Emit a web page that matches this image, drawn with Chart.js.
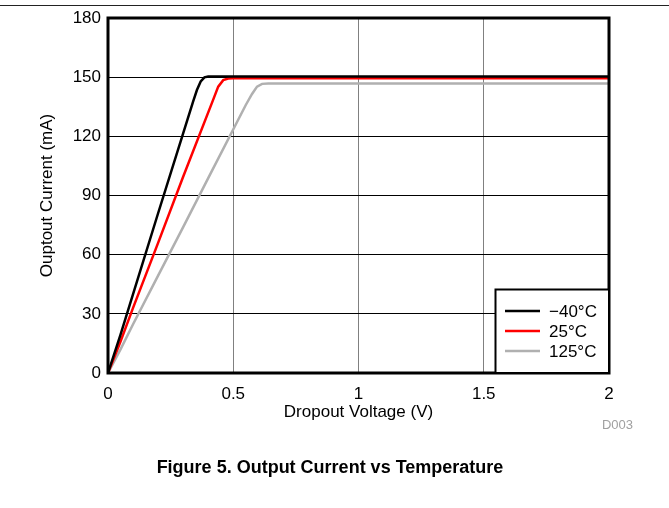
<!DOCTYPE html>
<html>
<head>
<meta charset="utf-8">
<script src="https://cdn.jsdelivr.net/npm/chart.js@4"></script>
<style>
  html, body { margin: 0; padding: 0; background: #fff; }
  #wrap { position: relative; width: 669px; height: 508px; overflow: hidden; font-family: "Liberation Sans", Arial, sans-serif; }
  #rule { position: absolute; left: 0; top: 5px; width: 669px; height: 1px; background: #222; }
  #fig { position: absolute; left: 0; width: 660px; top: 457px; text-align: center; font-weight: bold; font-size: 18px; color: #000; }
  #code { position: absolute; right: 36px; top: 417px; font-size: 13px; color: #a0a0a0; }
  canvas { position: absolute; left: 0; top: 0; }
</style>
</head>
<body>
<div id="wrap">
  <canvas id="c" width="669" height="508"></canvas>
  <div id="rule"></div>
  <div id="code">D003</div>
  <div id="fig">Figure 5. Output Current vs Temperature</div>
</div>
<script>
// Data
const seriesLabels = ['\u221240\u00B0C', '25\u00B0C', '125\u00B0C'];
const voltM40 = [0, 0.05, 0.10, 0.20, 0.30, 0.34, 0.355, 0.37, 0.385, 0.40, 2.0];
const currM40 = [0, 19.5, 40, 81, 121.5, 137.7, 143.5, 147.8, 149.9, 150.3, 150.3];
const volt25  = [0, 0.05, 0.10, 0.20, 0.30, 0.42, 0.44, 0.46, 0.48, 0.50, 2.0];
const curr25  = [0, 16, 33, 66, 99.5, 138.6, 145.2, 148.5, 149.3, 149.4, 149.4];
const volt125 = [0, 0.05, 0.10, 0.20, 0.30, 0.40, 0.55, 0.575, 0.595, 0.615, 0.64, 2.0];
const curr125 = [0, 12, 24.7, 49.4, 74, 98.8, 135.9, 141.5, 145.2, 146.6, 146.8, 146.8];
const xTicks = [0, 0.5, 1, 1.5, 2];
const yTicks = [0, 30, 60, 90, 120, 150, 180];

const FONT = '"Liberation Sans", Arial, sans-serif';
const toPts = (xs, ys) => xs.map((x, i) => ({ x: x, y: ys[i] }));
const colors = ['#000000', '#ff0000', '#b0b0b0'];

const framePlugin = {
  id: 'frame',
  afterDatasetsDraw(chart) {
    const { ctx, chartArea: a } = chart;
    ctx.save();
    // plot border
    ctx.strokeStyle = '#000';
    ctx.lineWidth = 3;
    ctx.strokeRect(a.left, a.top, a.right - a.left, a.bottom - a.top);
    // legend box
    const bx = 495.5, by = 289.5, bw = a.right - bx, bh = a.bottom - by;
    ctx.fillStyle = '#fff';
    ctx.fillRect(bx, by, bw, bh);
    ctx.lineWidth = 2;
    ctx.strokeRect(bx, by, bw, bh);
    ctx.font = '17px ' + FONT;
    ctx.textBaseline = 'middle';
    ctx.textAlign = 'left';
    chart.data.datasets.forEach((ds, i) => {
      const y = 311 + i * 20;
      ctx.strokeStyle = ds.borderColor;
      ctx.lineWidth = 2.5;
      ctx.beginPath();
      ctx.moveTo(505, y);
      ctx.lineTo(540, y);
      ctx.stroke();
      ctx.fillStyle = '#000';
      ctx.fillText(ds.label, 549, y + 1);
    });
    ctx.restore();
  }
};

new Chart(document.getElementById('c'), {
  type: 'scatter',
  data: {
    datasets: [
      { label: seriesLabels[0], data: toPts(voltM40, currM40), borderColor: colors[0] },
      { label: seriesLabels[1], data: toPts(volt25, curr25), borderColor: colors[1] },
      { label: seriesLabels[2], data: toPts(volt125, curr125), borderColor: colors[2] }
    ].map(d => Object.assign(d, { showLine: true, pointRadius: 0, borderWidth: 2.5, tension: 0, fill: false }))
  },
  options: {
    responsive: false,
    animation: false,
    devicePixelRatio: 1,
    layout: { padding: { left: 37, top: 18, right: 60, bottom: 85 } },
    plugins: { legend: { display: false }, tooltip: { enabled: false } },
    scales: {
      x: {
        type: 'linear', min: 0, max: 2,
        afterBuildTicks: s => { s.ticks = xTicks.map(v => ({ value: v })); },
        afterFit: s => { s.height = 50; },
        grid: { color: '#808080', lineWidth: 1, drawTicks: false },
        border: { display: false },
        ticks: { padding: 11, color: '#000', font: { family: FONT, size: 17 }, maxRotation: 0,
                 callback: v => String(v) },
        title: { display: true, text: 'Dropout Voltage (V)', color: '#000', padding: 0, font: { family: FONT, size: 17 } }
      },
      y: {
        type: 'linear', min: 0, max: 180,
        afterBuildTicks: s => { s.ticks = yTicks.map(v => ({ value: v })); },
        afterFit: s => { s.width = 71; },
        grid: { color: '#000', lineWidth: 1, drawTicks: false },
        border: { display: false },
        ticks: { padding: 7, color: '#000', font: { family: FONT, size: 17 } },
        title: { display: true, text: 'Ouptout Current (mA)', color: '#000', padding: 0, font: { family: FONT, size: 17 } }
      }
    }
  },
  plugins: [framePlugin]
});
</script>
</body>
</html>
